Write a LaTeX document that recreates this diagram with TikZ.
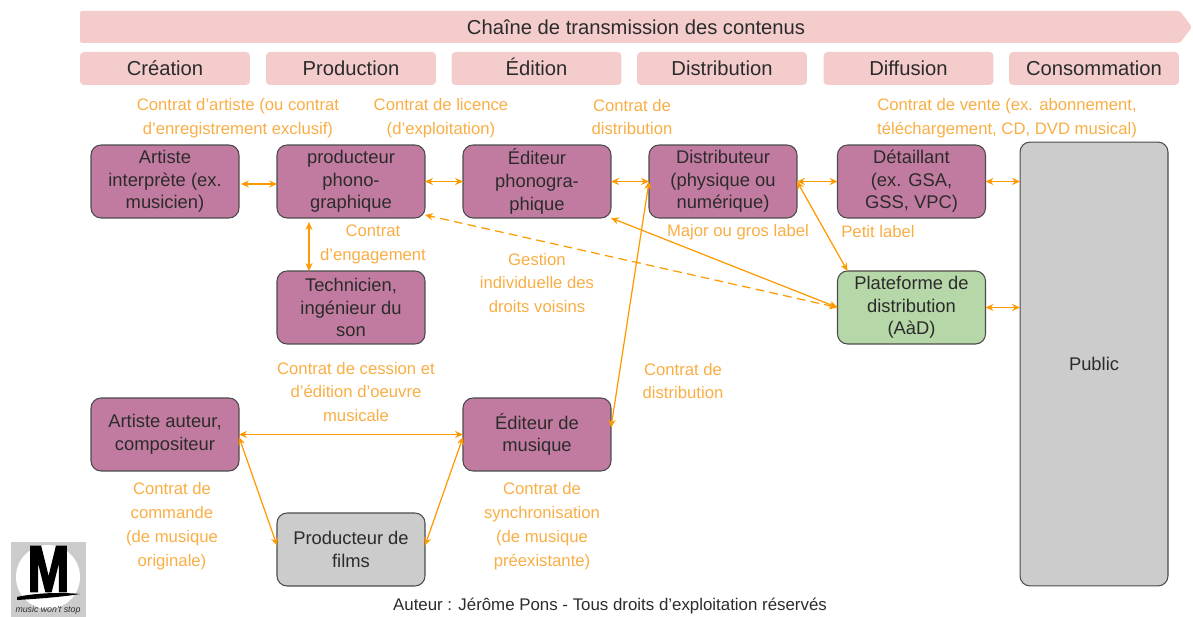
\documentclass[tikz,border=0pt]{standalone}
\usepackage{fontspec}
\setmainfont{Liberation Sans}
\usetikzlibrary{arrows.meta}
\font\logofont="Liberation Sans/B:embolden=3" at 37pt
\definecolor{rose}{HTML}{F4CCCC}
\definecolor{mauve}{HTML}{C27BA0}
\definecolor{vert}{HTML}{B6D7A8}
\definecolor{gris}{HTML}{CCCCCC}
\definecolor{filet}{HTML}{FF9900}
\definecolor{orangetxt}{HTML}{F9AE45}
\definecolor{encre}{HTML}{2B2B2B}
\tikzstyle{acteur} = [draw=encre!85,line width=0.6pt,rounded corners=0.2cm,minimum width=2.96cm,minimum height=1.46cm,inner sep=0,outer sep=0,align=center,text=encre,font=\fontsize{10.45}{12.85}\selectfont]
\tikzstyle{etape} = [fill=rose,rounded corners=0.08cm,minimum width=3.4cm,minimum height=0.66cm,inner sep=0,text height=10pt,text depth=1.8pt,text=encre,font=\fontsize{11.5}{13}\selectfont]
\tikzstyle{contrat} = [inner sep=0,align=center,text=orangetxt,font=\fontsize{9.5}{13.6}\selectfont]
\tikzstyle{lien} = [draw=filet,line width=0.7pt,{Stealth[length=4.5pt,width=4pt]}-{Stealth[length=4.5pt,width=4pt]}]
\tikzstyle{liendash} = [lien,dash pattern=on 5pt off 3pt]

\begin{document}
\begin{tikzpicture}[x=0.02cm,y=-0.02cm]
    \useasboundingbox (0,0) rectangle (1193,617);

    % bandeau
    \fill[rose,rounded corners=0.04cm] (80,11) -- (1180,11) -- (1192,27) -- (1180,43) -- (80,43) -- cycle;
    \node[inner sep=0,text=encre,font=\fontsize{11.5}{13}\selectfont] (chaine) at (636,27) {Chaîne de transmission des contenus};

    \node[etape] (creation) at (165,68.5) {Création};
    \node[etape] (production) at (351,68.5) {Production};
    \node[etape] (edition) at (536.5,68.5) {Édition};
    \node[etape] (distribution) at (722,68.5) {Distribution};
    \node[etape] (diffusion) at (908.5,68.5) {Diffusion};
    \node[etape] (consommation) at (1094,68.5) {Consommation};

    % acteurs
    \node[acteur,fill=mauve] (interprete) at (165,181.5) {Artiste\\interprète (ex.\\musicien)};
    \node[acteur,fill=mauve] (phono) at (351,181.5) {producteur\\phono-\\graphique};
    \node[acteur,fill=mauve] (editphono) at (537,181.5) {Éditeur\\phonogra-\\phique};
    \node[acteur,fill=mauve] (distrib) at (723,181.5) {Distributeur\\(physique ou\\numérique)};
    \node[acteur,fill=mauve] (detail) at (911.5,181.5) {Détaillant\\(ex. GSA,\\GSS, VPC)};
    \node[acteur,fill=gris,minimum height=8.88cm] (public) at (1094,364) {Public};
    \node[acteur,fill=mauve] (tech) at (351,307.5) {Technicien,\\ingénieur du\\son};
    \node[acteur,fill=vert] (plateforme) at (911.5,307.5) {Plateforme de\\distribution\\(AàD)};
    \node[acteur,fill=mauve] (auteur) at (165,434.5) {Artiste auteur,\\compositeur};
    \node[acteur,fill=mauve] (editmus) at (537,434.5) {Éditeur de\\musique};
    \node[acteur,fill=gris] (films) at (351,549.5) {Producteur de\\films};

    % contrats
    \node[contrat] (c1) at (238,118) {Contrat d’artiste (ou contrat\\d’enregistrement exclusif)};
    \node[contrat] (c2) at (441,118) {Contrat de licence\\(d’exploitation)};
    \node[contrat] (c3) at (632,117) {Contrat de\\distribution};
    \node[contrat] (c4) at (1007,118) {Contrat de vente (ex. abonnement,\\téléchargement, CD, DVD musical)};
    \node[contrat] (c5) at (373,244) {Contrat\\d’engagement};
    \node[contrat] (c6) at (738,232) {Major ou gros label};
    \node[contrat] (c7) at (878,232) {Petit label};
    \node[contrat] (c8) at (537,283) {Gestion\\individuelle des\\droits voisins};
    \node[contrat] (c9) at (356,392) {Contrat de cession et\\d’édition d’oeuvre\\musicale};
    \node[contrat] (c10) at (683,381) {Contrat de\\distribution};
    \node[contrat] (c11) at (172,526) {Contrat de\\commande\\(de musique\\originale)};
    \node[contrat] (c12) at (542,526) {Contrat de\\synchronisation\\(de musique\\préexistante)};

    % liens
    \draw[lien] ([yshift=-0.05cm]interprete.east) ++(0.04cm,0) -- ([yshift=-0.05cm]phono.west);
    \draw[lien] (phono) -- (editphono);
    \draw[lien] (editphono) -- (distrib);
    \draw[lien] (distrib) -- (detail);
    \draw[lien] (detail.east) -- (detail.east -| public.west);
    \draw[lien] (plateforme.east) -- (plateforme.east -| public.west);
    \draw[lien] ([xshift=-0.84cm]tech.north) -- ([xshift=-0.84cm,yshift=-0.08cm]phono.south);
    \draw[liendash] (plateforme.west) -- ([yshift=0.06cm]phono.south east);
    \draw[lien] (plateforme.west) -- (editphono.south east);
    \draw[lien] (distrib.east) -- ([xshift=0.2cm]plateforme.north west);
    \draw[lien] ([yshift=0.14cm]editmus.east) -- (distrib.west);
    \draw[lien] (auteur) -- (editmus);
    \draw[lien] ([yshift=-0.05cm]auteur.east) -- ([yshift=0.08cm]films.west);
    \draw[lien] ([yshift=-0.05cm]editmus.west) -- ([yshift=0.08cm]films.east);

    % logo
    \fill[gris] (11,542) rectangle (86,617);
    \fill[white] (48,577) circle (32);
    \node[inner sep=0,text=black,xscale=0.78,transform shape,font=\logofont] (lettre) at (48.5,569) {M};
    \fill[black] (17,597) .. controls (35,593) and (60,592) .. (80,594) .. controls (62,597) and (35,599) .. (17,600) -- cycle;
    \node[inner sep=0,text=encre,font=\fontsize{5}{6}\selectfont\itshape] (devise) at (48,610) {music won’t stop};

    \node[inner sep=0,text=encre,font=\fontsize{9.6}{11}\selectfont] (signature) at (610,606) {Auteur : Jérôme Pons - Tous droits d’exploitation réservés};

\end{tikzpicture}
\end{document}
